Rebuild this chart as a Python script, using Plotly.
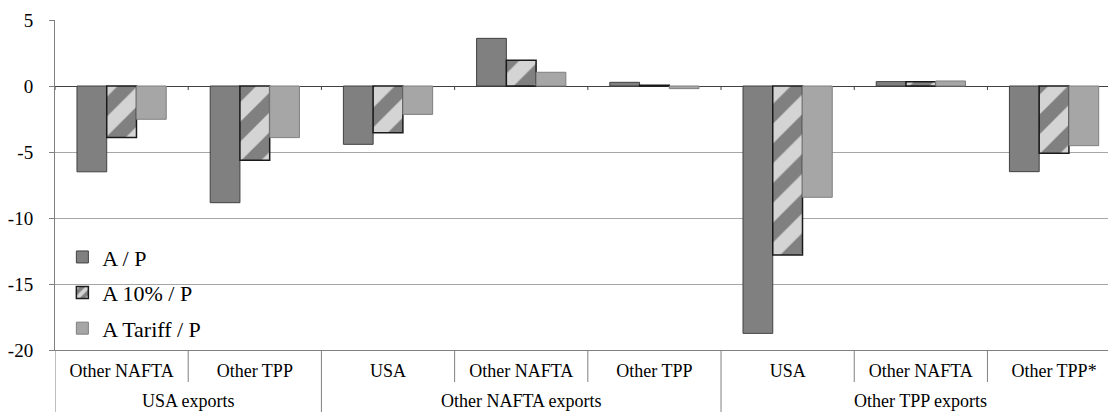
import plotly.graph_objects as go

exporters = ["USA exports", "USA exports",
             "Other NAFTA exports", "Other NAFTA exports", "Other NAFTA exports",
             "Other TPP exports", "Other TPP exports", "Other TPP exports"]
destinations = ["Other NAFTA", "Other TPP",
                "USA", "Other NAFTA", "Other TPP",
                "USA", "Other NAFTA", "Other TPP*"]

a_p = [-6.5, -8.84, -4.42, 3.61, 0.28, -18.74, 0.33, -6.49]
a10_p = [-3.91, -5.63, -3.54, 1.95, 0.05, -12.8, 0.33, -5.1]
atariff_p = [-2.52, -3.91, -2.15, 1.04, -0.2, -8.43, 0.38, -4.52]

series_names = ["A / P", "A 10% / P", "A Tariff / P"]
y_ticks = [5, 0, -5, -10, -15, -20]
y_ticktext = ["5", "0", "-5", "-10", "-15", "-20"]

FONT = "Liberation Serif, Times New Roman, serif"
W, H = 1108, 412
ML, MR, MT, MB = 55, 0, 20, 62
plot_h = H - MT - MB

idx = list(range(len(destinations)))

fig = go.Figure()
fig.add_trace(go.Bar(
    x=idx, y=a_p, name=series_names[0], legendgroup="g1",
    marker=dict(color="#808080", line=dict(color="#404040", width=1)),
))
fig.add_trace(go.Bar(
    x=idx, y=a10_p, name=series_names[1], legendgroup="g2",
    marker=dict(color="#808080", line=dict(color="#1a1a1a", width=1.5),
                pattern=dict(shape="/", fgcolor="#d4d4d4", bgcolor="#808080",
                             size=28, solidity=0.5, fillmode="replace")),
))
fig.add_trace(go.Bar(
    x=idx, y=atariff_p, name=series_names[2], legendgroup="g3",
    marker=dict(color="#a6a6a6", line=dict(color="#7f7f7f", width=1)),
))

shapes = []
annotations = []
n = len(destinations)
sub_drop = -32 / plot_h
grp_drop = -MB / plot_h
for b in [i - 0.5 for i in range(n + 1)]:
    shapes.append(dict(type="line", xref="x", yref="y", ysizemode="pixel", yanchor=0,
                       x0=b, x1=b, y0=0, y1=-4, line=dict(color="#404040", width=1)))
    if b < 0 or b > n - 1:
        is_group = True
    else:
        is_group = exporters[int(b - 0.5)] != exporters[int(b + 0.5)]
    shapes.append(dict(type="line", xref="x", yref="paper", x0=b, x1=b, y0=0,
                       y1=grp_drop if is_group else sub_drop,
                       line=dict(color="#808080", width=1)))

groups = []
for i, g in enumerate(exporters):
    if not groups or groups[-1][0] != g:
        groups.append([g, i, i])
    else:
        groups[-1][2] = i
for g, s, e in groups:
    annotations.append(dict(text=g, xref="x", yref="paper", x=(s + e) / 2,
                            y=-(401 - (H - MB)) / plot_h, yanchor="middle",
                            showarrow=False, font=dict(size=18, family=FONT, color="black")))

x_range = [-0.5, 7.405]

fig.update_layout(
    width=W, height=H,
    margin=dict(l=ML, r=MR, t=MT, b=MB),
    paper_bgcolor="white", plot_bgcolor="white",
    barmode="group", bargap=0.33, bargroupgap=0,
    font=dict(family=FONT, size=18, color="black"),
    showlegend=True,
    legend=dict(x=0.007, y=0.345, xanchor="left", yanchor="top",
                bgcolor="rgba(0,0,0,0)", font=dict(size=22, family=FONT),
                tracegroupgap=4, itemwidth=30, traceorder="grouped"),
    xaxis=dict(range=x_range, tickmode="array", tickvals=idx, ticktext=destinations,
               showline=True, linecolor="#808080", linewidth=1, ticks="",
               tickfont=dict(size=18, family=FONT), showgrid=False, zeroline=False,
               automargin=False, ticklabelstandoff=4),
    yaxis=dict(range=[-20, 5], tickvals=y_ticks, ticktext=y_ticktext,
               showgrid=True, gridcolor="#a6a6a6", gridwidth=1,
               zeroline=True, zerolinecolor="#404040", zerolinewidth=1,
               showline=True, linecolor="#808080", linewidth=1,
               ticks="outside", ticklen=5, tickcolor="#808080",
               ticklabelstandoff=12,
               tickfont=dict(size=19, family=FONT), automargin=False),
    shapes=shapes,
    annotations=annotations,
)

fig.write_html("out.html", config={"displayModeBar": False},
               post_script="document.body.style.margin='0';document.body.style.overflow='hidden';")
